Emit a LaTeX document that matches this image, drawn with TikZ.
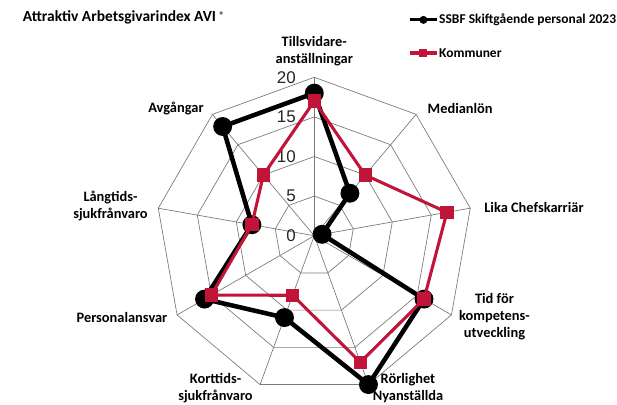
\documentclass[tikz,border=0pt]{standalone}
\usepackage{fontspec}
\setmainfont{Carlito}
\newfontfamily\scalefont{Liberation Sans}
\definecolor{kommunred}{RGB}{192,20,56}
\definecolor{webgray}{RGB}{120,120,120}
\begin{document}
\begin{tikzpicture}[x=5.94pt,y=5.94pt,
    web/.style={draw=webgray,line width=.5pt},
    tick/.style={anchor=east,inner sep=0pt,text=black!85,font=\scalefont\fontsize{12.7}{14}\selectfont},
    lbl/.style={align=center,inner sep=0pt,font=\bfseries\fontsize{10.8}{12.75}\selectfont},
    legtext/.style={anchor=west,inner sep=1.5pt,font=\bfseries\fontsize{10.1}{12}\selectfont},
    sline/.style={line width=3.4pt,line join=round},
    kline/.style={kommunred,line width=2.3pt,line join=round},
    sdot/.style={circle,fill=black,inner sep=0pt,minimum size=14.2pt},
    kbox/.style={rectangle,fill=kommunred,inner sep=0pt,minimum size=10pt}]
        \useasboundingbox (-39.68,-21.25) rectangle (38.22,29.76);

        %% rings
        \draw[web] (90:5)--(50:5)--(10:5)--(-30:5)--(-70:5)--(-110:5)--(-150:5)--(170:5)--(130:5)--cycle;
        \draw[web] (90:10)--(50:10)--(10:10)--(-30:10)--(-70:10)--(-110:10)--(-150:10)--(170:10)--(130:10)--cycle;
        \draw[web] (90:15)--(50:15)--(10:15)--(-30:15)--(-70:15)--(-110:15)--(-150:15)--(170:15)--(130:15)--cycle;
        \draw[web] (90:20)--(50:20)--(10:20)--(-30:20)--(-70:20)--(-110:20)--(-150:20)--(170:20)--(130:20)--cycle;

        %% spokes
        \coordinate (o) at (0,0);
        \draw[web] (o)--(90:20);
        \draw[web] (o)--(50:20);
        \draw[web] (o)--(10:20);
        \draw[web] (o)--(-30:20);
        \draw[web] (o)--(-70:20);
        \draw[web] (o)--(-110:20);
        \draw[web] (o)--(-150:20);
        \draw[web] (o)--(170:20);
        \draw[web] (o)--(130:20);

        %% scale
        \node[tick] (t0) at (-2.3,0) {0};
        \node[tick] (t5) at (-2.3,5) {5};
        \node[tick] (t10) at (-2.3,10) {10};
        \node[tick] (t15) at (-2.3,15) {15};
        \node[tick] (t20) at (-2.3,20) {20};

        %% SSBF
        \coordinate (s1) at (90:18);
        \coordinate (s2) at (50:7);
        \coordinate (s3) at (10:1);
        \coordinate (s4) at (-30:16);
        \coordinate (s5) at (-70:20);
        \coordinate (s6) at (-110:11);
        \coordinate (s7) at (-150:16);
        \coordinate (s8) at (170:8);
        \coordinate (s9) at (130:18);
        \draw[sline] (s1)--(s2)--(s3)--(s4)--(s5)--(s6)--(s7)--(s8)--(s9)--cycle;
        \node[sdot] (S1) at (s1) {};
        \node[sdot] (S2) at (s2) {};
        \node[sdot] (S3) at (s3) {};
        \node[sdot] (S4) at (s4) {};
        \node[sdot] (S5) at (s5) {};
        \node[sdot] (S6) at (s6) {};
        \node[sdot] (S7) at (s7) {};
        \node[sdot] (S8) at (s8) {};
        \node[sdot] (S9) at (s9) {};

        %% Kommuner
        \coordinate (k1) at (90:17);
        \coordinate (k2) at (50:10);
        \coordinate (k3) at (10:17);
        \coordinate (k4) at (-30:16);
        \coordinate (k5) at (-70:17);
        \coordinate (k6) at (-110:8);
        \coordinate (k7) at (-150:15);
        \coordinate (k8) at (170:8);
        \coordinate (k9) at (130:10);
        \draw[kline] (k1)--(k2)--(k3)--(k4)--(k5)--(k6)--(k7)--(k8)--(k9)--cycle;
        \node[kbox] (K1) at (k1) {};
        \node[kbox] (K2) at (k2) {};
        \node[kbox] (K3) at (k3) {};
        \node[kbox] (K4) at (k4) {};
        \node[kbox] (K5) at (k5) {};
        \node[kbox] (K6) at (k6) {};
        \node[kbox] (K7) at (k7) {};
        \node[kbox] (K8) at (k8) {};
        \node[kbox] (K9) at (k9) {};

        %% axis labels
        \node[lbl] (tillsv) at (0,23.26) {Tillsvidare-\\anställningar};
        \node[lbl] (median) at (18.42,16.11) {Medianlön};
        \node[lbl] (chef) at (27.74,3.62) {Lika Chefskarriär};
        \node[lbl] (komp) at (22.75,-10.27) {Tid för\\kompetens-\\utveckling};
        \node[lbl] (rorl) at (11.83,-19.29) {Rörlighet\\Nyanställda};
        \node[lbl] (korttid) at (-12.47,-19.29) {Korttids-\\sjukfrånvaro};
        \node[lbl] (person) at (-24.28,-10.27) {Personalansvar};
        \node[lbl] (langtid) at (-25.73,3.69) {Långtids-\\sjukfrånvaro};
        \node[lbl] (avgang) at (-17.46,16.11) {Avgångar};

        %% title
        \node[lbl,anchor=west,font=\bfseries\fontsize{11.6}{14}\selectfont] (title) at (-36.82,27.58) {Attraktiv Arbetsgivarindex AVI {\fontsize{7}{7}\selectfont\raisebox{.7ex}{®}}};

        %% legend
        \coordinate (la) at (12.08,27.25);
        \coordinate (lb) at (15.49,27.25);
        \draw[line width=2.4pt] (la)--(lb);
        \node[sdot,minimum size=6pt] (lm) at (13.78,27.25) {};
        \node[legtext] (lt) at (lb) {SSBF Skiftgående personal 2023};
        \coordinate (ma) at (12.08,23.07);
        \coordinate (mb) at (15.49,23.07);
        \draw[kommunred,line width=2.4pt] (ma)--(mb);
        \node[kbox,minimum size=6pt] (mm) at (13.78,23.07) {};
        \node[legtext] (mt) at (mb) {Kommuner};
\end{tikzpicture}
\end{document}
